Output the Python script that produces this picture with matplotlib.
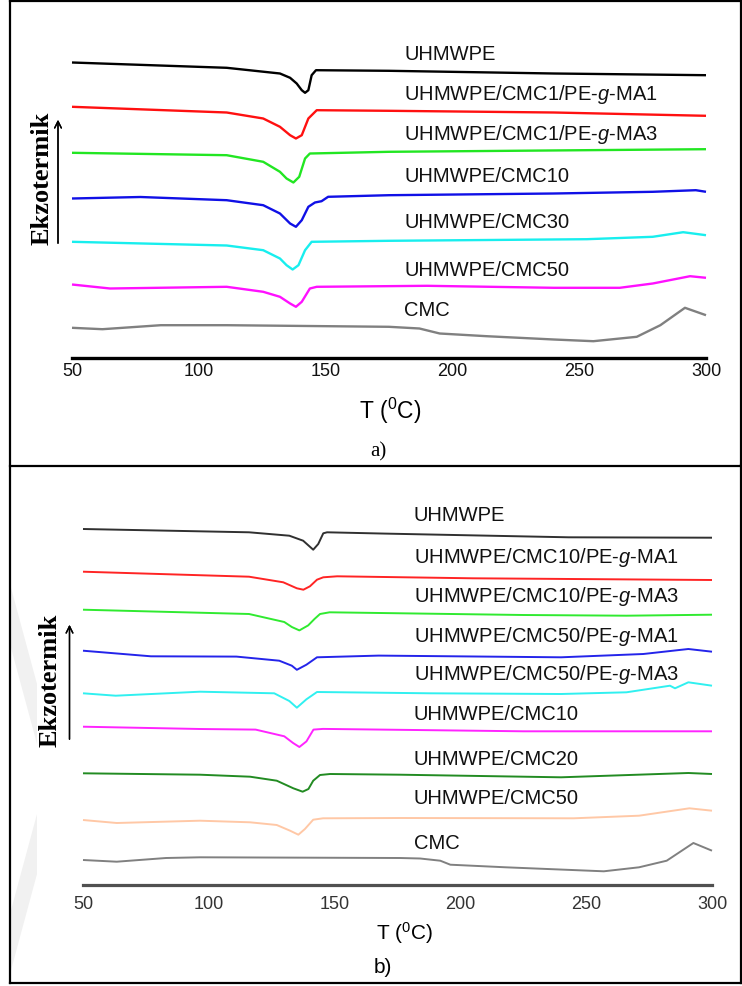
import matplotlib
matplotlib.use("Agg")
import matplotlib.pyplot as plt
from matplotlib.lines import Line2D
from matplotlib.patches import Polygon

plt.rcParams["font.family"] = ["Liberation Sans", "DejaVu Sans"]
plt.rcParams["mathtext.fontset"] = "custom"
plt.rcParams["mathtext.rm"] = "Liberation Sans"
plt.rcParams["mathtext.it"] = "Liberation Sans:italic"

W, H = 742, 987

# ---- panel a) DSC curves (T in degC, heat flow in arbitrary offset units) ----
A_UHMWPE_T = [50, 111, 132, 136, 138.6, 140.6, 141.9, 143.2, 144.5, 146.2, 175, 240, 300]
A_UHMWPE_Q = [29.5, 28.97, 28.4, 27.97, 27.4, 26.73, 26.47, 26.73, 28.23, 28.73, 28.67, 28.4, 28.23]

A_CMC1_MA1_T = [50, 111, 125.4, 132, 136, 138.3, 140.6, 143.2, 146.5, 175, 240, 300]
A_CMC1_MA1_Q = [25.07, 24.5, 23.9, 23.07, 22.23, 21.9, 22.23, 23.9, 24.73, 24.67, 24.5, 24.17]

A_CMC1_MA3_T = [50, 111, 125.4, 132, 134.6, 137.3, 139.6, 141.9, 143.8, 175, 300]
A_CMC1_MA3_Q = [20.47, 20.23, 19.57, 18.57, 17.9, 17.5, 18.07, 19.9, 20.4, 20.57, 20.83]

A_CMC10_T = [50, 77, 111, 125.4, 132, 136, 138.3, 140.6, 143.2, 145.8, 148.4, 151, 175, 240, 279, 296, 300]
A_CMC10_Q = [15.9, 16.05, 15.73, 15.23, 14.4, 13.4, 13.07, 13.73, 15.07, 15.5, 15.63, 16.07, 16.23, 16.4, 16.57, 16.73, 16.57]

A_CMC30_T = [50, 111, 125.4, 132, 134.6, 137, 139.3, 141.9, 144.5, 175, 253, 279, 291, 300]
A_CMC30_Q = [11.57, 11.2, 10.73, 9.9, 9.23, 8.8, 9.23, 10.73, 11.57, 11.67, 11.83, 12.07, 12.53, 12.23]

A_CMC50_T = [50, 65, 111, 125.4, 132, 136, 138.3, 140.6, 143.8, 146.5, 190, 240, 266, 279, 293.7, 300]
A_CMC50_Q = [7.3, 6.9, 7.07, 6.57, 6.07, 5.4, 5.07, 5.57, 6.9, 7.07, 7.17, 6.97, 6.97, 7.4, 8.13, 7.97]

A_CMC_T = [50, 62, 85, 111, 175, 187, 195, 213.5, 240, 255.6, 272.7, 282, 291.7, 300]
A_CMC_Q = [2.97, 2.83, 3.23, 3.23, 3.07, 2.9, 2.4, 2.13, 1.8, 1.63, 2.07, 3.23, 4.97, 4.23]

A_LABELS = ["UHMWPE", "UHMWPE/CMC1/PE-$g$-MA1", "UHMWPE/CMC1/PE-$g$-MA3",
            "UHMWPE/CMC10", "UHMWPE/CMC30", "UHMWPE/CMC50", "CMC"]
A_COLORS = ["#000000", "#ff1010", "#22e622", "#1010e6", "#18eeee", "#ff10ff", "#808080"]

# ---- panel b) ----
B_UHMWPE_T = [50, 116, 132, 137.5, 141.5, 143.5, 145.5, 147, 170, 243, 300]
B_UHMWPE_Q = [35.6, 35.27, 34.93, 34.43, 33.53, 34.1, 35.17, 35.27, 35.14, 34.77, 34.73]

B_CMC10_MA1_T = [50, 116, 129.6, 135, 137.6, 140.2, 143, 145.5, 151, 205, 300]
B_CMC10_MA1_Q = [31.33, 30.83, 30.27, 29.67, 29.53, 29.87, 30.53, 30.77, 30.87, 30.67, 30.5]

B_CMC10_MA3_T = [50, 116, 130, 133, 136, 139.5, 142, 144.2, 148, 225, 266, 300]
B_CMC10_MA3_Q = [27.53, 27.1, 26.3, 25.8, 25.46, 25.96, 26.6, 27.1, 27.27, 27.0, 26.93, 27.03]

B_CMC50_MA1_T = [50, 77, 111, 128, 133, 135, 138.8, 143, 167.5, 240, 272.7, 290.6, 300]
B_CMC50_MA1_Q = [23.43, 22.87, 22.84, 22.43, 21.93, 21.52, 22.03, 22.77, 22.94, 22.77, 23.1, 23.6, 23.33]

B_CMC50_MA3_T = [50, 63, 96.5, 126, 132, 135, 138.8, 143, 188, 240, 266, 283.3, 285.3, 290.6, 300]
B_CMC50_MA3_Q = [19.17, 18.93, 19.33, 19.17, 18.4, 17.73, 18.57, 19.3, 19.17, 19.1, 19.27, 19.93, 19.67, 20.27, 19.93]

B_CMC10_T = [50, 96.5, 118.6, 130, 133.5, 136, 138.8, 141.6, 145.4, 225, 300]
B_CMC10_Q = [15.83, 15.6, 15.54, 14.87, 14.2, 13.8, 14.36, 15.54, 15.61, 15.37, 15.37]

B_CMC20_T = [50, 96.5, 116.4, 127, 133.6, 137.3, 139.6, 141.5, 144.2, 148.2, 176, 240, 290.6, 300]
B_CMC20_Q = [11.17, 11.03, 10.83, 10.43, 9.67, 9.33, 9.6, 10.43, 11.0, 11.1, 11.03, 10.77, 11.2, 11.1]

B_CMC50_T = [50, 63.4, 96.5, 116.4, 127, 132.3, 135.6, 138.2, 141.5, 145.4, 176, 245, 271, 291, 300]
B_CMC50_Q = [6.5, 6.2, 6.43, 6.27, 6.0, 5.43, 5.03, 5.6, 6.53, 6.67, 6.7, 6.67, 6.93, 7.67, 7.43]

B_CMC_T = [50, 63.4, 83, 96.5, 176, 184, 192, 196, 218, 257, 271, 282, 292.6, 300]
B_CMC_Q = [2.5, 2.33, 2.7, 2.77, 2.7, 2.65, 2.43, 2.03, 1.77, 1.37, 1.77, 2.43, 4.2, 3.43]

B_LABELS = ["UHMWPE", "UHMWPE/CMC10/PE-$g$-MA1", "UHMWPE/CMC10/PE-$g$-MA3",
            "UHMWPE/CMC50/PE-$g$-MA1", "UHMWPE/CMC50/PE-$g$-MA3",
            "UHMWPE/CMC10", "UHMWPE/CMC20", "UHMWPE/CMC50", "CMC"]
B_COLORS = ["#303030", "#ff2424", "#30ea30", "#2424ea", "#30f0f0", "#ff24ff",
            "#228b22", "#ffc8a6", "#808080"]

X_TICKS = [50, 100, 150, 200, 250, 300]


def fx(px):
    return px / W


def fy(py):
    return 1 - py / H


def draw_panel(fig, left, right, zero_py, top_val, curves, colors, labels,
               label_x, label_y, axis_color, axis_lw, curve_lw, tick_pad, tick_color):
    ax = fig.add_axes([fx(left), fy(zero_py), fx(right) - fx(left), top_val * 10 / H])
    ax.set_xlim(50, 300)
    ax.set_ylim(0, top_val)
    ax.patch.set_alpha(0)

    for side in ["top", "left", "right"]:
        ax.spines[side].set_visible(False)
    ax.spines["bottom"].set_color(axis_color)
    ax.spines["bottom"].set_linewidth(axis_lw)

    ax.set_yticks([])
    ax.set_xticks(X_TICKS)
    ax.tick_params(axis="x", length=0, pad=tick_pad, labelsize=13, labelcolor=tick_color)

    for (t, q), c in zip(curves, colors):
        ax.plot(t, q, color=c, lw=curve_lw, solid_joinstyle="round",
                solid_capstyle="butt", clip_on=False)

    for name, yv in zip(labels, label_y):
        ax.text(label_x, yv, name, fontsize=14.5, va="center", ha="left", color="#111111")
    return ax


def frame_line(fig, x0, y0, x1, y1):
    fig.add_artist(Line2D([fx(x0), fx(x1)], [fy(y0), fy(y1)],
                          color="black", lw=1.6, transform=fig.transFigure))


def side_arrow(fig, x, y_tail, y_head):
    fig.add_artist(plt.annotate("", xy=(fx(x), fy(y_head)), xytext=(fx(x), fy(y_tail)),
                                xycoords="figure fraction", textcoords="figure fraction",
                                arrowprops=dict(arrowstyle="->", lw=1.0, color="black",
                                                mutation_scale=12)))


def main():
    fig = plt.figure(figsize=(W / 100, H / 100), dpi=100)

    # faint watermark chevron at the left edge of panel b
    for pts in [[(10, 585), (10, 645), (37, 745), (37, 685)],
                [(37, 815), (37, 875), (10, 975), (10, 915)]]:
        fig.add_artist(Polygon([(fx(x), fy(y)) for x, y in pts], closed=True,
                               facecolor="#f1f1f1", edgecolor="none",
                               transform=fig.transFigure, zorder=0))

    a_curves = [(A_UHMWPE_T, A_UHMWPE_Q), (A_CMC1_MA1_T, A_CMC1_MA1_Q),
                (A_CMC1_MA3_T, A_CMC1_MA3_Q), (A_CMC10_T, A_CMC10_Q),
                (A_CMC30_T, A_CMC30_Q), (A_CMC50_T, A_CMC50_Q), (A_CMC_T, A_CMC_Q)]
    a_label_y = [30.35, 26.35, 22.35, 18.18, 13.57, 8.85, 4.85]
    draw_panel(fig, 72, 706, 358.5, 32, a_curves, A_COLORS, A_LABELS,
               181.0, a_label_y, "black", 2.4, 1.7, 3, "#111111")

    b_curves = [(B_UHMWPE_T, B_UHMWPE_Q), (B_CMC10_MA1_T, B_CMC10_MA1_Q),
                (B_CMC10_MA3_T, B_CMC10_MA3_Q), (B_CMC50_MA1_T, B_CMC50_MA1_Q),
                (B_CMC50_MA3_T, B_CMC50_MA3_Q), (B_CMC10_T, B_CMC10_Q),
                (B_CMC20_T, B_CMC20_Q), (B_CMC50_T, B_CMC50_Q), (B_CMC_T, B_CMC_Q)]
    b_label_y = [37.05, 32.85, 28.9, 24.95, 21.1, 17.12, 12.68, 8.72, 4.28]
    draw_panel(fig, 83, 712, 886, 38, b_curves, B_COLORS, B_LABELS,
               181.5, b_label_y, "#505050", 2.3, 1.4, 7, "#333333")

    # axis titles, panel letters, y-direction marks
    fig.text(fx(390), fy(411), "T ($^{0}$C)", fontsize=16.5, ha="center", va="center")
    fig.text(fx(404.5), fy(933), "T ($^{0}$C)", fontsize=15, ha="center", va="center")
    fig.text(fx(378.5), fy(452), "a)", fontsize=15, ha="center", va="center",
             family="Liberation Serif")
    fig.text(fx(383), fy(968), "b)", fontsize=15, ha="center", va="center")

    for x, yc in [(42, 178), (50.5, 680)]:
        fig.text(fx(x), fy(yc), "Ekzotermik", rotation=90, fontsize=19, fontweight="bold",
                 family="Liberation Serif", ha="center", va="center")
    side_arrow(fig, 58, 247, 118)
    side_arrow(fig, 69.5, 743, 623)

    # boxes around the two panels
    frame_line(fig, 10, 2, 741, 2)
    frame_line(fig, 10, 2, 10, 984)
    frame_line(fig, 741, 2, 741, 466)
    frame_line(fig, 10, 466.5, 741, 466.5)
    frame_line(fig, 740.5, 466, 740.5, 984)
    frame_line(fig, 10, 984, 740.5, 984)

    fig.savefig("out.png", dpi=100)


if __name__ == "__main__":
    main()
